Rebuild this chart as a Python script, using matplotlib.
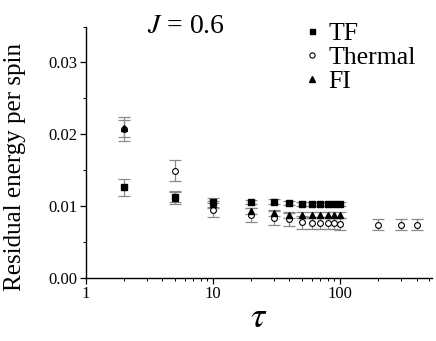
import matplotlib
matplotlib.use("Agg")
import matplotlib.pyplot as plt
from matplotlib.ticker import LogLocator, MultipleLocator, NullFormatter, FixedFormatter, FixedLocator

plt.rcParams["font.family"] = ["Liberation Serif", "DejaVu Serif"]
plt.rcParams["mathtext.fontset"] = "stix"

# data
tau_tf = [2, 5, 10, 20, 30, 40, 50, 60, 70, 80, 90, 100]
e_tf = [0.0126, 0.0113, 0.0105, 0.0105, 0.0106, 0.0104, 0.0103, 0.0103, 0.0103, 0.0103, 0.0103, 0.0103]
err_tf = [0.0012, 0.0008, 0.0006, 0.0003, 0.0003, 0.0003, 0.0003, 0.0003, 0.0003, 0.0003, 0.0003, 0.0003]

tau_th = [2, 5, 10, 20, 30, 40, 50, 60, 70, 80, 90, 100, 200, 300, 400]
e_th = [0.0207, 0.0149, 0.0094, 0.0087, 0.0083, 0.0081, 0.0077, 0.0076, 0.0076, 0.0076, 0.0076, 0.0075, 0.0074, 0.0074, 0.0074]
err_th = [0.0017, 0.0015, 0.0010, 0.0010, 0.0010, 0.0009, 0.0009, 0.0008, 0.0008, 0.0008, 0.0008, 0.0008, 0.0007, 0.0007, 0.0007]

tau_fi = [2, 5, 10, 20, 30, 40, 50, 60, 70, 80, 90, 100]
e_fi = [0.0208, 0.0111, 0.0102, 0.0093, 0.0090, 0.0087, 0.0087, 0.0087, 0.0087, 0.0087, 0.0087, 0.0087]
err_fi = [0.0012, 0.0008, 0.0005, 0.0004, 0.0004, 0.0004, 0.0004, 0.0004, 0.0004, 0.0004, 0.0004, 0.0004]

fig = plt.figure(figsize=(4.36, 3.41), dpi=100)
ax = fig.add_axes([0.197, 0.186, 0.794, 0.736])

ebkw = dict(fmt="none", ecolor="#8a8a8a", elinewidth=0.9, capsize=4, capthick=0.9)
ax.errorbar(tau_th, e_th, yerr=err_th, **ebkw)
ax.errorbar(tau_fi, e_fi, yerr=err_fi, **ebkw)
ax.errorbar(tau_tf, e_tf, yerr=err_tf, **ebkw)

ax.plot(tau_th, e_th, "o", ms=4.2, mfc="white", mec="black", mew=0.8, ls="none", label="Thermal")
ax.plot(tau_fi, e_fi, "^", ms=4.2, color="black", ls="none", label="FI")
ax.plot(tau_tf, e_tf, "s", ms=4.0, color="black", ls="none", label="TF")

ax.set_xscale("log")
ax.set_xlim(1, 530)
ax.set_ylim(0, 0.035)
ax.xaxis.set_major_locator(FixedLocator([1, 10, 100]))
ax.xaxis.set_major_formatter(FixedFormatter(["1", "10", "100"]))
ax.xaxis.set_minor_locator(LogLocator(base=10, subs=range(2, 10)))
ax.xaxis.set_minor_formatter(NullFormatter())
ax.yaxis.set_major_locator(MultipleLocator(0.01))
ax.yaxis.set_minor_locator(MultipleLocator(0.005))
ax.yaxis.set_major_formatter(plt.FuncFormatter(lambda v, p: f"{v:.2f}"))

for s in ["top", "right"]:
    ax.spines[s].set_visible(False)
for s in ["left", "bottom"]:
    ax.spines[s].set_linewidth(1.0)
ax.tick_params(which="major", direction="out", length=4, width=0.9, labelsize=12, pad=2)
ax.tick_params(which="minor", direction="out", length=2, width=0.7)

ax.set_xlabel(r"$\tau$", fontsize=26, labelpad=0)
ax.set_ylabel("Residual energy per spin", fontsize=18, labelpad=4)
ax.yaxis.set_label_coords(-0.172, 0.44)

ax.text(0.29, 1.0, r"$J$ = 0.6", transform=ax.transAxes, ha="center", va="center", fontsize=20)

h, l = ax.get_legend_handles_labels()
order = [2, 0, 1]
ax.legend([h[i] for i in order], [l[i] for i in order], loc="upper left",
          bbox_to_anchor=(0.585, 1.08), frameon=False, fontsize=18.5,
          handlelength=0.6, handletextpad=0.35, labelspacing=0.05, borderpad=0.1,
          markerscale=0.9)

fig.savefig("out.png", dpi=100)
